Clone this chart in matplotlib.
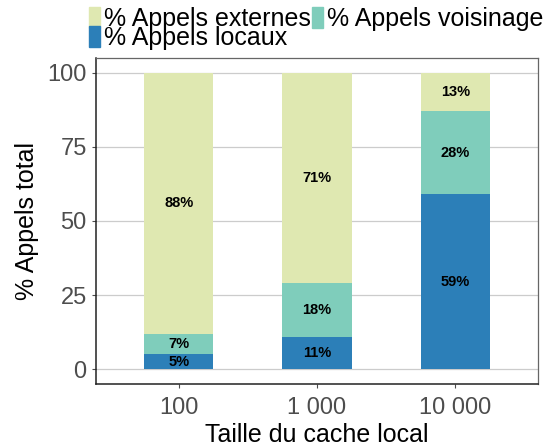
import matplotlib.pyplot as plt
from matplotlib.patches import Patch

plt.rcParams['font.family'] = ['Liberation Sans', 'DejaVu Sans']

# cache sizes on the x axis
categories = ['100', '1 000', '10 000']
# share of calls (%), stacked bottom to top
locaux = [5, 11, 59]
voisinage = [7, 18, 28]
externes = [88, 71, 13]

series = [
    ('% Appels locaux', locaux, '#2c7fb8'),
    ('% Appels voisinage', voisinage, '#7fcdbb'),
    ('% Appels externes', externes, '#dfe8b1'),
]

fig = plt.figure(figsize=(5.47, 4.46), dpi=100)
ax = fig.add_axes([0.175, 0.139, 0.809, 0.731])

x = list(range(1, len(categories) + 1))
bottom = [0] * len(categories)
for name, vals, col in series:
    ax.bar(x, vals, bottom=bottom, width=0.5, color=col, zorder=2)
    for xi, b, v in zip(x, bottom, vals):
        ax.text(xi, b + v / 2, str(v) + '%', ha='center', va='center',
                fontsize=10.5, fontweight='bold', color='black', zorder=3)
    bottom = [b + v for b, v in zip(bottom, vals)]

ax.set_xlim(0.4, 3.6)
ax.set_ylim(-5, 105)
ax.set_yticks([0, 25, 50, 75, 100])
ax.set_xticks(x)
ax.set_xticklabels(categories)
ax.yaxis.grid(True, color='#cccccc', linewidth=0.9, zorder=0)
ax.tick_params(axis='both', labelsize=17, labelcolor='#4d4d4d', color='#4d4d4d',
               length=3, width=0.8)
ax.tick_params(axis='x', pad=6)

for s in ['left', 'bottom']:
    ax.spines[s].set_color('#222222')
    ax.spines[s].set_linewidth(1.1)
for s in ['top', 'right']:
    ax.spines[s].set_color('#666666')
    ax.spines[s].set_linewidth(0.9)

ax.set_xlabel('Taille du cache local', fontsize=18, labelpad=3)
ax.set_ylabel('% Appels total', fontsize=18, labelpad=6)

leg_handles = [Patch(color='#dfe8b1'), Patch(color='#2c7fb8'), Patch(color='#7fcdbb')]
leg_labels = ['% Appels externes', '% Appels locaux', '% Appels voisinage']
fig.legend(leg_handles, leg_labels, ncol=2, loc='upper left',
           bbox_to_anchor=(0.158, 0.99), frameon=False, fontsize=18,
           handlelength=0.45, handleheight=0.9, handletextpad=0.15,
           columnspacing=0.05, labelspacing=-0.18, borderpad=0.1,
           borderaxespad=0)

fig.savefig('out.png', dpi=100)
